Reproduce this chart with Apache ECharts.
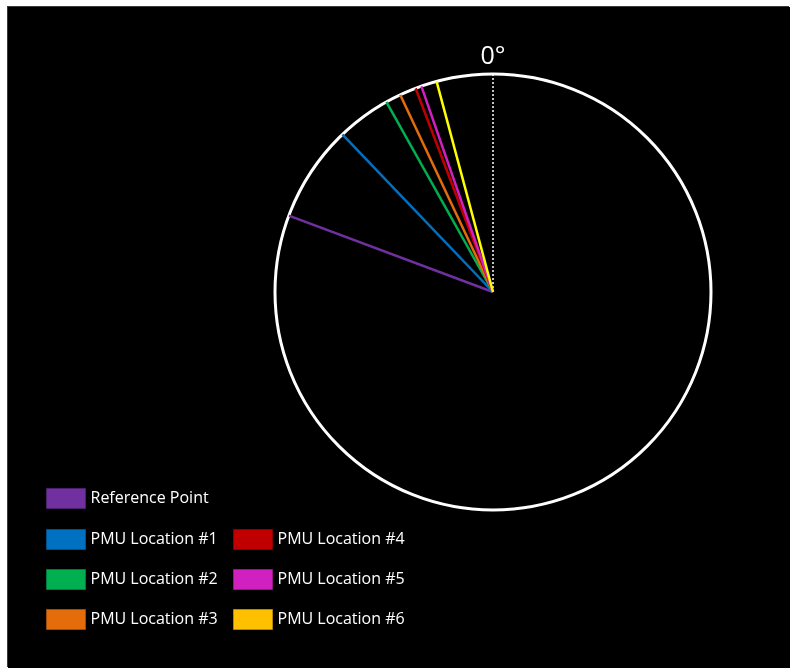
<!DOCTYPE html>
<html>
<head>
<meta charset="utf-8">
<script src="https://cdn.jsdelivr.net/npm/echarts@6/dist/echarts.min.js"></script>
<style>
  html, body { margin: 0; padding: 0; background: #ffffff; width: 790px; height: 668px; overflow: hidden; }
  #chart { position: absolute; left: 8px; top: 7px; width: 782px; height: 661px; background: #000000; box-shadow: -1px -1px 0 #3a3a3a; }
</style>
</head>
<body>
<div id="chart"></div>
<script>
// Series names (legend entries)
const names = ['Reference Point', 'PMU Location #1', 'PMU Location #2', 'PMU Location #3',
               'PMU Location #4', 'PMU Location #5', 'PMU Location #6'];
// Phase angles in degrees (negative = counter-clockwise from 0° at top)
const angles = [-69.5, -43.7, -29.3, -25.2, -20.8, -19.2, -15.0];
// Reference direction
const zeroAngle = [0];
const zeroLabel = '0°';

// Palette
const lineColors = ['#7030A0', '#0070C0', '#00B050', '#E46C0A', '#C00000', '#D020C0', '#FFFF00'];
const legendColors = ['#7030A0', '#0070C0', '#00B050', '#E46C0A', '#C00000', '#D020C0', '#FFC000'];
const legendBorders = ['#4a1f6b', '#004f88', '#007a3e', '#9e4b06', '#870000', '#921686', '#b38600'];

const FONT = '"Open Sans", "DejaVu Sans", sans-serif';

const chart = echarts.init(document.getElementById('chart'), null, { renderer: 'canvas' });

const series = names.map((n, i) => ({
  name: n,
  type: 'line',
  coordinateSystem: 'polar',
  showSymbol: false,
  silent: true,
  animation: false,
  data: [[0, 360 + angles[i]], [1, 360 + angles[i]]],
  lineStyle: { color: lineColors[i], width: 2.5 },
  itemStyle: { color: legendColors[i] },
  z: 3
}));

series.push({
  name: 'zero',
  type: 'line',
  coordinateSystem: 'polar',
  showSymbol: false,
  silent: true,
  animation: false,
  data: [[0, zeroAngle[0]], [1, zeroAngle[0]]],
  lineStyle: { color: '#ffffff', width: 1.5, type: [2, 2] },
  z: 2
});

function legendData(idx) {
  return idx.map(i => ({
    name: names[i],
    itemStyle: { color: legendColors[i], borderColor: legendBorders[i], borderWidth: 1 }
  }));
}
const legendCommon = {
  orient: 'vertical',
  icon: 'rect',
  itemWidth: 39,
  itemHeight: 20,
  itemGap: 19,
  padding: 0,
  selectedMode: false,
  textStyle: { color: '#ffffff', fontSize: 16, fontFamily: FONT, padding: [0, 0, 4, 0] }
};

chart.setOption({
  backgroundColor: '#000000',
  animation: false,
  polar: { center: [485, 285], radius: 218 },
  angleAxis: {
    type: 'value',
    min: 0,
    max: 360,
    interval: 90,
    startAngle: 90,
    clockwise: true,
    axisLine: { show: true, lineStyle: { color: '#ffffff', width: 3 } },
    axisTick: { show: false },
    splitLine: { show: false },
    axisLabel: {
      show: true,
      margin: 5,
      color: '#ffffff',
      fontSize: 25,
      fontFamily: FONT,
      formatter: v => (v === zeroAngle[0] ? zeroLabel : '')
    }
  },
  radiusAxis: { type: 'value', min: 0, max: 1, show: false },
  legend: [
    Object.assign({}, legendCommon, { left: 38, top: 481, data: legendData([0]) }),
    Object.assign({}, legendCommon, { left: 38, top: 522, data: legendData([1, 2, 3]) }),
    Object.assign({}, legendCommon, { left: 225, top: 522, data: legendData([4, 5, 6]) })
  ],
  series: series
});
</script>
</body>
</html>
